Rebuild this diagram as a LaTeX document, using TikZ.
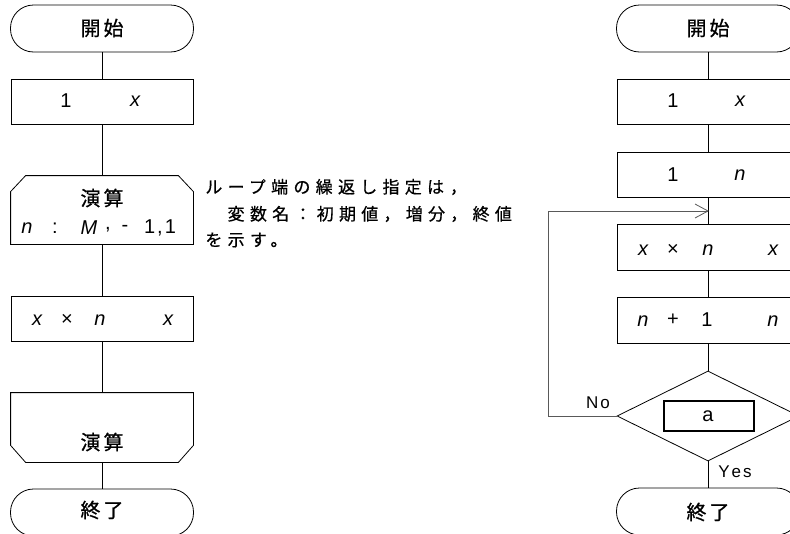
\documentclass[tikz,border=0pt]{standalone}
\usepackage{fontspec}
\setmainfont{Liberation Sans}
\newfontfamily\jp[FakeBold=0.8]{Noto Sans CJK JP}
\newfontfamily\jpsp[LetterSpace=31,FakeBold=0.6]{Noto Sans CJK JP}
\usetikzlibrary{shapes.geometric,arrows.meta}
\begin{document}
\begin{tikzpicture}[x=1pt,y=-1pt,
  line width=0.8pt,
  term/.style={draw, rounded corners=23pt, minimum width=183pt, minimum height=47pt, inner sep=0pt},
  proc/.style={draw, minimum width=182pt, minimum height=45pt, inner sep=0pt},
  hold/.style={minimum width=182pt, inner sep=0pt},
  jt/.style={font=\jp\fontsize{20}{22}\selectfont, inner sep=0pt},
  lt/.style={font=\fontsize{20}{22}\selectfont, inner sep=0pt},
  it/.style={font=\itshape\fontsize{20}{22}\selectfont, inner sep=0pt},
  lbl/.style={font=\fontsize{17}{19}\selectfont, inner sep=0pt},
  note/.style={anchor=west, inner sep=0pt, font=\jpsp\fontsize{17}{19}\selectfont},
  loopline/.style={draw=black!65, line width=0.8pt}
]
\useasboundingbox (0,0) rectangle (790,533);
\clip (0,0) rectangle (790,533);

% ---------- left chart ----------
\node[term] (ls) at (102,28.5) {};
\node[proc] (l1) at (102,101.5) {};
\node[hold, minimum height=68pt] (lls) at (102,210) {};
\node[proc] (l2) at (102,318.5) {};
\node[hold, minimum height=69pt] (lle) at (102,427.5) {};
\node[term] (le) at (102,512.5) {};

\draw (lls.south west) -- ([yshift=-16pt]lls.north west) -- ([xshift=15pt]lls.north west)
  -- ([xshift=-15pt]lls.north east) -- ([yshift=-16pt]lls.north east) -- (lls.south east) -- cycle;
\draw (lle.north west) -- ([yshift=17pt]lle.south west) -- ([xshift=15pt]lle.south west)
  -- ([xshift=-15pt]lle.south east) -- ([yshift=17pt]lle.south east) -- (lle.north east) -- cycle;

\draw (ls) -- (l1);
\draw (l1) -- (lls);
\draw (lls) -- (l2);
\draw (l2) -- (lle);
\draw (lle) -- (le);

\node[jt] (tls) at (102,28) {開\hspace{3pt}始};
\node[lt] (tl1a) at (66,101) {1};
\node[it] (tl1b) at (135,101) {x};
\node[jt] (tlls) at (102,198) {演\hspace{3pt}算};
\node[it] (tn1) at (27,228) {n};
\node[lt] (tc1) at (55,228) {:};
\node[it] (tm1) at (89,228) {M};
\node[lt] (tcm) at (108,230) {,};
\node[lt] (tmi) at (125,228) {-};
\node[lt] (t11) at (160,228) {1\hspace{2pt},\hspace{2pt}1};
\node[it] (tl2a) at (37,320) {x};
\node[lt] (tl2b) at (67,320) {×};
\node[it] (tl2c) at (100,320) {n};
\node[it] (tl2d) at (168,320) {x};
\node[jt] (tlle) at (102,442) {演\hspace{3pt}算};
\node[jt] (tle) at (102,510) {終\hspace{3pt}了};

% ---------- annotation ----------
\node[note] (n1) at (205,187) {ループ端の繰返し指定は\hspace{6pt}，};
\node[note] (n2) at (205,214) {　変数名：初期値，増分，終値};
\node[note] (n3) at (205,240) {を示す。};

% ---------- right chart ----------
\node[term] (rs) at (708,28.5) {};
\node[proc] (r1) at (708,101.5) {};
\node[proc] (r2) at (708,174.5) {};
\node[proc, minimum height=46pt] (r3) at (708,247) {};
\node[proc, minimum height=46pt] (r4) at (708,320) {};
\node[draw, diamond, minimum width=182pt, minimum height=90pt, inner sep=0pt] (rd) at (708,416) {};
\node[draw, line width=2pt, minimum width=90pt, minimum height=30pt, inner sep=0pt] (ra) at (708.5,415.5) {};
\node[term] (re) at (708,511.5) {};

\coordinate (j) at (708,211);
\coordinate (c1) at (548,416);
\coordinate (c2) at (548,211);

\draw (rs) -- (r1);
\draw (r1) -- (r2);
\draw (r2) -- (r3);
\draw (r3) -- (r4);
\draw (r4) -- (rd);
\draw (rd.south) -- (re);
\draw[loopline] (rd.west) -- (c1) -- (c2) -- (j);
\draw[loopline] ([shift={(-13pt,-7pt)}]j) -- (j) -- ([shift={(-13pt,7pt)}]j);

\node[jt] (trs) at (708,28) {開\hspace{3pt}始};
\node[lt] (tr1a) at (673,101) {1};
\node[it] (tr1b) at (740,101) {x};
\node[lt] (tr2a) at (673,175) {1};
\node[it] (tr2b) at (740,175) {n};
\node[it] (tr3a) at (643,250) {x};
\node[lt] (tr3b) at (673,250) {×};
\node[it] (tr3c) at (708,250) {n};
\node[it] (tr3d) at (773,250) {x};
\node[it] (tr4a) at (643,321) {n};
\node[lt] (tr4b) at (673,320) {+};
\node[lt] (tr4c) at (707,320) {1};
\node[it] (tr4d) at (773,321) {n};
\node[lt] (tra) at (708,416) {a};
\node[lbl] (tno) at (598,403) {N\hspace{2pt}o};
\node[lbl] (tyes) at (735,472) {Y\hspace{2pt}e\hspace{2pt}s};
\node[jt] (tre) at (708,512) {終\hspace{3pt}了};
\end{tikzpicture}
\end{document}
